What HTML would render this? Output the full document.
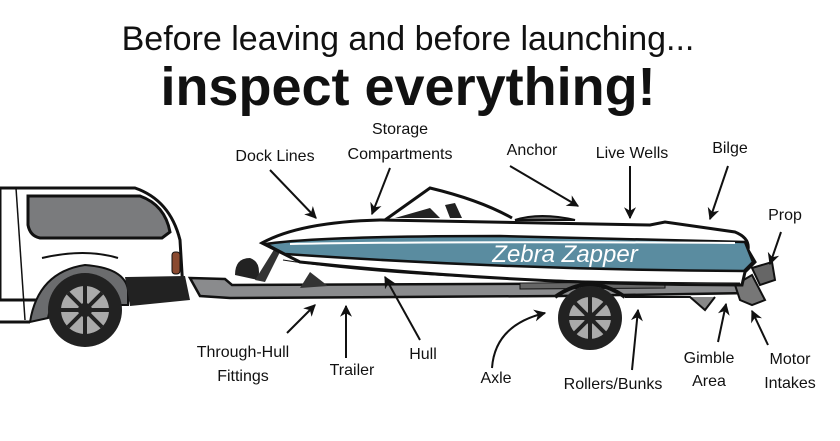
<!DOCTYPE html>
<html><head><style>
html,body{margin:0;padding:0;background:#fff;}
svg{display:block}
text{font-family:"Liberation Sans",sans-serif;fill:#111;}
</style></head><body>
<svg width="840" height="441" viewBox="0 0 840 441" xmlns="http://www.w3.org/2000/svg">
<defs>
<marker id="a" viewBox="0 0 10 10" refX="9" refY="5" markerWidth="6" markerHeight="6" orient="auto"><path d="M0,0 L10,5 L0,10 L3,5 z" fill="#111"/></marker>
</defs>
<text x="408" y="50" font-size="34" text-anchor="middle">Before leaving and before launching...</text>
<text x="408" y="105" font-size="54" font-weight="bold" text-anchor="middle">inspect everything!</text>

<!-- car -->
<path d="M0,188 L135,188 Q170,200 180,240 L183,290 L170,300 L0,300 Z" fill="#fff" stroke="#111" stroke-width="3"/>
<path d="M28,196 L140,196 Q165,205 170,232 L162,238 L40,238 Q30,236 28,225 Z" fill="#7a7b7d" stroke="#111" stroke-width="3"/>
<line x1="16" y1="188" x2="25" y2="320" stroke="#111" stroke-width="1.5"/>
<path d="M42,258 Q85,248 118,258" fill="none" stroke="#111" stroke-width="2"/>
<path d="M30,322 Q38,272 85,265 Q125,268 128,290 L128,305 L118,305 Q115,282 85,280 Q55,282 48,318 Z" fill="#6b6c6e" stroke="#111" stroke-width="2"/>
<path d="M125,277 L185,276 L190,300 L130,306 Z" fill="#222"/>
<rect x="172" y="252" width="8" height="22" rx="3" fill="#8a4a30" stroke="#111"/>
<circle cx="85" cy="310" r="37" fill="#222"/>
<circle cx="85" cy="310" r="24" fill="#aaa"/>
<g stroke="#222" stroke-width="4"><line x1="61" y1="310" x2="109" y2="310"/><line x1="85" y1="286" x2="85" y2="334"/><line x1="68" y1="293" x2="102" y2="327"/><line x1="68" y1="327" x2="102" y2="293"/></g>
<circle cx="85" cy="310" r="7" fill="#222"/>
<line x1="0" y1="322" x2="30" y2="322" stroke="#111" stroke-width="3"/>

<!-- trailer -->
<path d="M190,278 L225,279 L232,285 L745,283 L750,293 L560,296 L230,298 L200,296 Z" fill="#8a8b8d" stroke="#111" stroke-width="2.5"/>
<path d="M235,275 Q235,258 250,258 Q262,262 258,280 Z" fill="#222"/>
<path d="M255,280 L275,248 L280,252 L265,282 Z" fill="#333"/>
<path d="M310,272 L328,286 L300,288 Z" fill="#333"/>
<path d="M520,283 L665,282 L665,288 L520,289 Z" fill="#666" stroke="#111"/>
<path d="M555,297 Q590,272 625,297" fill="none" stroke="#111" stroke-width="4"/>
<path d="M625,297 L690,297 L705,310 L715,297" fill="#888" stroke="#111" stroke-width="2"/>
<circle cx="590" cy="318" r="32" fill="#222"/>
<circle cx="590" cy="318" r="21" fill="#aaa"/>
<g stroke="#222" stroke-width="4"><line x1="569" y1="318" x2="611" y2="318"/><line x1="590" y1="297" x2="590" y2="339"/><line x1="575" y1="303" x2="605" y2="333"/><line x1="575" y1="333" x2="605" y2="303"/></g>
<circle cx="590" cy="318" r="6" fill="#222"/>
<path d="M735,285 L752,275 L765,300 L752,305 L740,300 Z" fill="#777" stroke="#111" stroke-width="2"/>
<path d="M752,268 L772,262 L775,280 L760,285 Z" fill="#666" stroke="#111" stroke-width="2"/>

<!-- boat -->
<path d="M262,243 Q300,222 380,220 L650,225 L665,222 L735,232 Q750,238 748,250 L755,262 L745,272 L742,285 Q520,285 300,262 Z" fill="#fff" stroke="#111" stroke-width="3"/>
<path d="M266,244 Q320,236 500,236 L745,242 L753,262 L744,271 Q520,270 285,254 Z" fill="#5a8ca0" stroke="#111" stroke-width="2.5"/>
<path d="M290,244 Q450,241 735,243" fill="none" stroke="#fff" stroke-width="2"/>
<path d="M385,220 L430,188 Q480,200 512,218" fill="none" stroke="#111" stroke-width="3"/>
<path d="M395,218 L430,208 L440,218 Z" fill="#222"/>
<path d="M445,205 L455,203 L462,218 L450,218 Z" fill="#222"/>
<path d="M515,220 Q540,212 575,220 Z" fill="#666" stroke="#111" stroke-width="2"/>
<path d="M283,260 Q420,282 740,283" fill="none" stroke="#111" stroke-width="1"/>
<text x="565" y="262" font-size="24" font-style="italic" text-anchor="middle" style="fill:#fff">Zebra Zapper</text>

<!-- labels & arrows -->
<g font-size="16">
<text x="275" y="161" text-anchor="middle">Dock Lines</text>
<text x="400" y="134" text-anchor="middle">Storage</text>
<text x="400" y="159" text-anchor="middle">Compartments</text>
<text x="532" y="155" text-anchor="middle">Anchor</text>
<text x="632" y="158" text-anchor="middle">Live Wells</text>
<text x="730" y="153" text-anchor="middle">Bilge</text>
<text x="785" y="220" text-anchor="middle">Prop</text>
<text x="243" y="357" text-anchor="middle">Through-Hull</text>
<text x="243" y="381" text-anchor="middle">Fittings</text>
<text x="352" y="375" text-anchor="middle">Trailer</text>
<text x="423" y="359" text-anchor="middle">Hull</text>
<text x="496" y="383" text-anchor="middle">Axle</text>
<text x="613" y="389" text-anchor="middle">Rollers/Bunks</text>
<text x="709" y="363" text-anchor="middle">Gimble</text>
<text x="709" y="386" text-anchor="middle">Area</text>
<text x="790" y="364" text-anchor="middle">Motor</text>
<text x="790" y="388" text-anchor="middle">Intakes</text>
</g>
<g stroke="#111" stroke-width="2" fill="none" marker-end="url(#a)">
<line x1="270" y1="170" x2="316" y2="218"/>
<line x1="390" y1="168" x2="372" y2="214"/>
<line x1="510" y1="166" x2="578" y2="206"/>
<line x1="630" y1="166" x2="630" y2="218"/>
<line x1="728" y1="166" x2="710" y2="219"/>
<line x1="781" y1="232" x2="770" y2="264"/>
<line x1="287" y1="333" x2="315" y2="305"/>
<line x1="346" y1="358" x2="346" y2="306"/>
<line x1="420" y1="340" x2="385" y2="277"/>
<path d="M492,368 Q495,325 545,313"/>
<line x1="632" y1="370" x2="638" y2="310"/>
<line x1="718" y1="342" x2="726" y2="304"/>
<line x1="768" y1="345" x2="752" y2="311"/>
</g>
</svg>
</body></html>
